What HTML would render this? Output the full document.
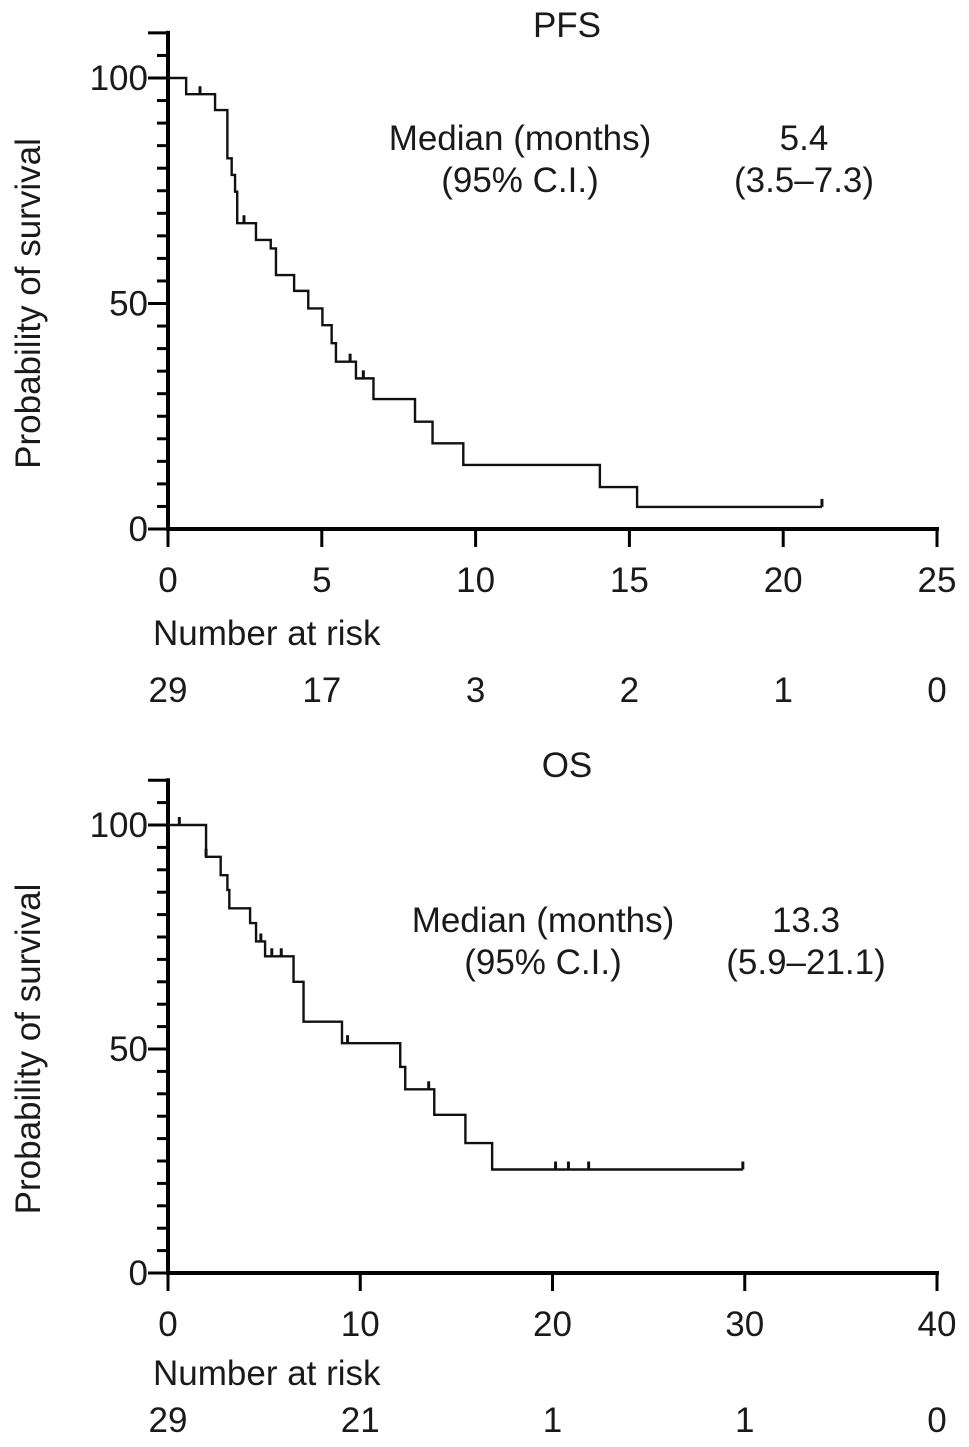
<!DOCTYPE html>
<html><head><meta charset="utf-8"><style>
html,body{margin:0;padding:0;background:#fff;}
svg text{font-family:"Liberation Sans",Arial,sans-serif;fill:#1a1a1a;}
</style></head><body>
<svg id="fig" width="969" height="1442" viewBox="0 0 969 1442" xmlns="http://www.w3.org/2000/svg">
<g id="pfs"></g>
<g id="os"></g>
</svg>
<script>
// PFS data
const pfsStepTimes = [0.59, 1.53, 1.93, 2.07, 2.18, 2.25, 2.86, 3.34, 3.51, 4.10, 4.56, 5.02, 5.32, 5.46, 6.11, 6.68, 8.03, 8.6, 9.6, 14.04, 15.25];
const pfsStepSurv  = [96.4, 92.9, 82.2, 78.5, 74.8, 67.8, 64.1, 62.2, 56.3, 52.8, 48.9, 45.2, 41.2, 37.1, 33.4, 28.8, 23.8, 19.0, 14.2, 9.3, 4.9];
const pfsCensor    = [1.04, 2.47, 5.92, 6.35, 21.26];
const pfsEnd = 21.26;
const pfsXTicks = [0, 5, 10, 15, 20, 25];
const pfsRisk = ["29", "17", "3", "2", "1", "0"];
// OS data
const osStepTimes = [1.98, 2.74, 3.09, 3.19, 4.27, 4.58, 5.05, 6.53, 7.05, 9.05, 12.08, 12.34, 13.85, 15.47, 16.86];
const osStepSurv  = [92.9, 88.8, 85.5, 81.4, 78.1, 74.0, 70.7, 65.0, 56.1, 51.3, 46.0, 41.0, 35.3, 29.0, 23.1];
const osCensor    = [0.59, 1.98, 4.83, 5.40, 5.89, 9.34, 13.56, 20.16, 20.83, 21.88, 29.9];
const osEnd = 29.9;
const osXTicks = [0, 10, 20, 30, 40];
const osRisk = ["29", "21", "1", "1", "0"];
const yTicks = [0, 50, 100];

const NS = "http://www.w3.org/2000/svg";
const FS = 35;
function mk(parent, tag, attrs, text){
  const e = document.createElementNS(NS, tag);
  for (const k in attrs) e.setAttribute(k, attrs[k]);
  if (text !== undefined) e.textContent = text;
  parent.appendChild(e);
  return e;
}
function survAt(times, surv, t){
  let s = 100;
  for (let i=0;i<times.length;i++){ if (times[i] <= t + 1e-9) s = surv[i]; }
  return s;
}
function panel(g, o){
  const x = t => o.x0 + (t/o.xmax)*(o.x1-o.x0);
  const y = v => o.y0 - v*o.ys;
  let e = mk(g,'text',{x:567,y:o.titleY,'text-anchor':'middle','font-size':FS}, o.title);
   
  e = mk(g,'line',{x1:o.x0,y1:y(110)-2,x2:o.x0,y2:o.y0+2,stroke:'#000','stroke-width':4});
   
  for (let v=0; v<=110; v+=5){
    const major = (v%50===0) || v===110;
    e = mk(g,'line',{x1:major? o.x0-20 : o.x0-11,y1:y(v),x2:o.x0,y2:y(v),stroke:'#000','stroke-width':3});
     
  }
  yTicks.forEach(v=>{
    e = mk(g,'text',{x:o.x0-20,y:y(v)+12,'text-anchor':'end','font-size':FS}, String(v));
     
  });
  const cy = (y(0)+y(100))/2;
  e = mk(g,'text',{x:40,y:cy,'text-anchor':'middle','font-size':FS,transform:`rotate(-90 40 ${cy})`}, 'Probability of survival');
   
  e = mk(g,'line',{x1:o.x0-2,y1:o.y0,x2:o.x1+2,y2:o.y0,stroke:'#000','stroke-width':4});
   
  o.xticks.forEach((t,i)=>{
    e = mk(g,'line',{x1:x(t),y1:o.y0,x2:x(t),y2:o.y0+18,stroke:'#000','stroke-width':3});
     
    e = mk(g,'text',{x:x(t),y:o.y0+63,'text-anchor':'middle','font-size':FS}, String(t));
     
    e = mk(g,'text',{x:x(t),y:o.riskY,'text-anchor':'middle','font-size':FS}, o.risk[i]);
     
  });
  e = mk(g,'text',{x:153,y:o.riskLabelY,'font-size':FS}, 'Number at risk');
   
  let d = `M${x(0)},${y(100)}`;
  o.times.forEach((t,i)=>{ d += ` H${x(t)} V${y(o.surv[i])}`; });
  d += ` H${x(o.end)}`;
  e = mk(g,'path',{d:d,fill:'none',stroke:'#111','stroke-width':2.4});
   
  o.censor.forEach(t=>{
    const s = survAt(o.times,o.surv,t);
    e = mk(g,'line',{x1:x(t),y1:y(s),x2:x(t),y2:y(s)-8,stroke:'#111','stroke-width':3});
     
  });
  e = mk(g,'text',{x:o.medX,y:o.medY,'text-anchor':'middle','font-size':FS},'Median (months)');
   
  e = mk(g,'text',{x:o.medX,y:o.medY+42,'text-anchor':'middle','font-size':FS},'(95% C.I.)');
   
  e = mk(g,'text',{x:o.valX,y:o.medY,'text-anchor':'middle','font-size':FS},o.med);
   
  e = mk(g,'text',{x:o.valX,y:o.medY+42,'text-anchor':'middle','font-size':FS},o.ci);
   
}
panel(document.getElementById('pfs'),{title:'PFS',titleY:37,x0:168,x1:937,xmax:25,y0:529,ys:4.51,
  xticks:pfsXTicks,risk:pfsRisk,riskY:702,riskLabelY:645,times:pfsStepTimes,surv:pfsStepSurv,censor:pfsCensor,end:pfsEnd,
  medX:520,medY:150,valX:804,med:'5.4',ci:'(3.5–7.3)'});
panel(document.getElementById('os'),{title:'OS',titleY:777,x0:168,x1:937,xmax:40,y0:1273,ys:4.48,
  xticks:osXTicks,risk:osRisk,riskY:1432,riskLabelY:1385,times:osStepTimes,surv:osStepSurv,censor:osCensor,end:osEnd,
  medX:543,medY:932,valX:806,med:'13.3',ci:'(5.9–21.1)'});
</script>
</body></html>
